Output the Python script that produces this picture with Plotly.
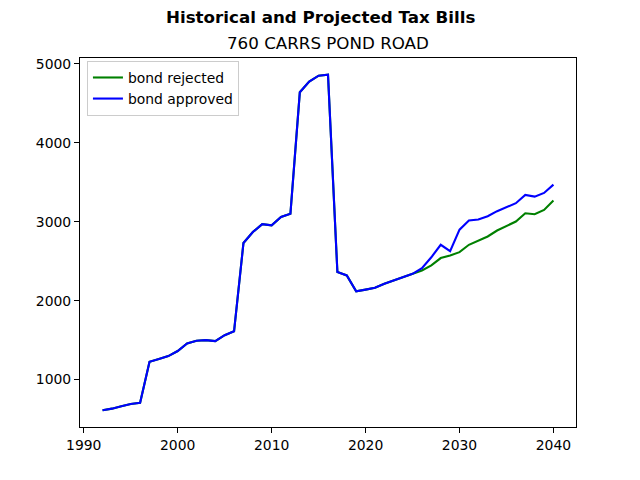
import plotly.graph_objects as go

years = list(range(1992, 2041))
bond_approved = [612, 632, 662, 692, 706, 1225, 1262, 1298, 1362, 1458, 1492, 1500, 1487, 1563,
                 1612, 2730, 2870, 2970, 2955, 3060, 3100, 4640, 4775, 4850, 4862, 2362, 2320,
                 2118, 2140, 2163, 2215, 2255, 2298, 2340, 2412, 2550, 2708, 2627, 2900, 3015,
                 3028, 3070, 3134, 3184, 3235, 3340, 3318, 3365, 3470]
bond_rejected = bond_approved[:34] + [2383, 2447, 2540, 2573, 2615, 2708, 2762, 2813, 2889,
                                      2943, 3003, 3108, 3095, 3150, 3268]

suptitle = "Historical and Projected Tax Bills"
subtitle = "760 CARRS POND ROAD"

FONT = "DejaVu Sans"

xmin, xmax = min(years), max(years)
xpad = (xmax - xmin) * 0.05
allv = bond_approved + bond_rejected
ymin, ymax = min(allv), max(allv)
ypad = (ymax - ymin) * 0.05

fig = go.Figure()
fig.add_trace(go.Scatter(x=years, y=bond_rejected, mode="lines", name="bond rejected",
                         line=dict(color="#008000", width=2.1)))
fig.add_trace(go.Scatter(x=years, y=bond_approved, mode="lines", name="bond approved",
                         line=dict(color="#0000ff", width=2.1)))

axis_common = dict(showline=True, mirror=True, linecolor="black", linewidth=1.1,
                   ticks="outside", ticklen=5, tickwidth=1.1, tickcolor="black",
                   showgrid=False, zeroline=False,
                   tickfont=dict(family=FONT, size=13.9, color="black"))

fig.update_layout(
    width=640, height=480,
    margin=dict(l=80, r=64, t=58, b=53),
    paper_bgcolor="white", plot_bgcolor="white",
    font=dict(family=FONT, color="black"),
    xaxis=dict(range=[xmin - xpad, xmax + xpad], tickmode="array",
               tickvals=[1990, 2000, 2010, 2020, 2030, 2040], **axis_common),
    yaxis=dict(range=[ymin - ypad, ymax + ypad], tickmode="array",
               tickvals=[1000, 2000, 3000, 4000, 5000], **axis_common),
    showlegend=True,
    legend=dict(x=0.014, y=0.992, xanchor="left", yanchor="top",
                bgcolor="rgba(255,255,255,0.8)", bordercolor="#cccccc", borderwidth=1,
                font=dict(family=FONT, size=13.9, color="black"),
                tracegroupgap=0, itemwidth=30),
    annotations=[
        dict(text="<b>" + suptitle + "</b>", x=(320 - 80) / 496, y=(427 - 17) / 369,
             xref="paper", yref="paper",
             showarrow=False, font=dict(family=FONT, size=16.7, color="black"),
             xanchor="center", yanchor="middle"),
        dict(text=subtitle, x=0.5, y=1.0, xref="x domain", yref="y domain", yshift=3,
             showarrow=False, font=dict(family=FONT, size=16.7, color="black"),
             xanchor="center", yanchor="bottom"),
    ],
)
fig.write_html("out.html")
